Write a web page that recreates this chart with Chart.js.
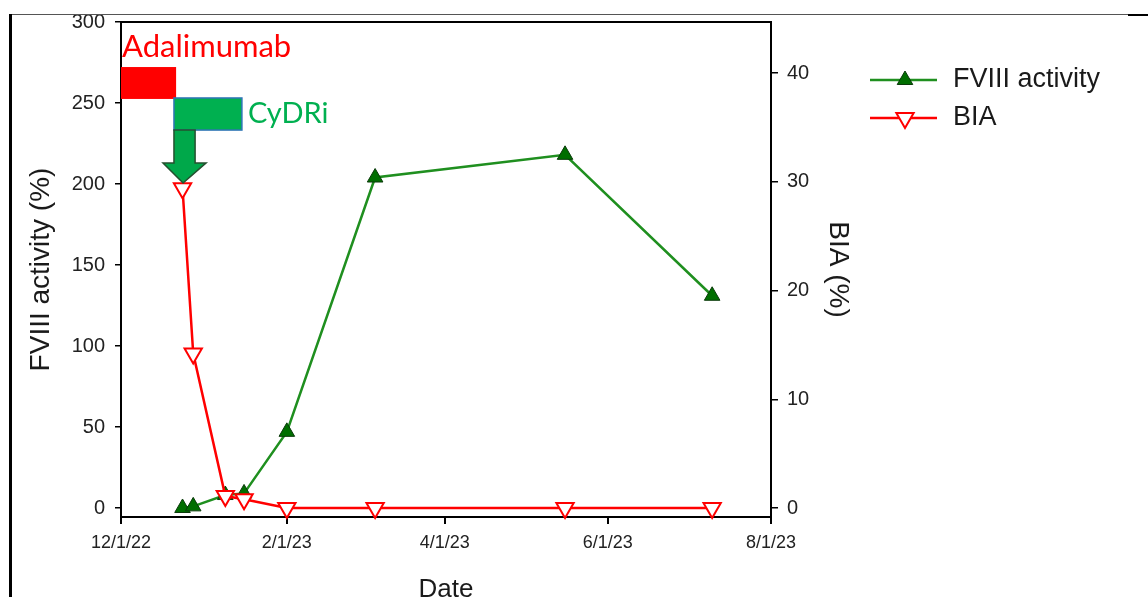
<!DOCTYPE html>
<html>
<head>
<meta charset="utf-8">
<script src="https://cdn.jsdelivr.net/npm/chart.js@4.4.0/dist/chart.umd.min.js"></script>
<style>
html, body { margin: 0; padding: 0; background: #fff; overflow: hidden; }
#wrap { position: relative; width: 1148px; height: 597px; overflow: hidden; }
#myChart { position: absolute; left: 0; top: 0; }
#frameTop { position: absolute; left: 9px; top: 14px; width: 1119px; height: 0; border-top: 1px solid #555; }
#frameCorner { position: absolute; left: 1128px; top: 14px; width: 20px; height: 2px; background: #000; }
#frameLeft { position: absolute; left: 9px; top: 14px; width: 3px; height: 600px; background: #000; }
</style>
</head>
<body>
<div id="wrap">
  <canvas id="myChart" width="1148" height="615"></canvas>
  <div id="frameTop"></div>
  <div id="frameCorner"></div>
  <div id="frameLeft"></div>
</div>
<script>
// x axis is days since 12/1/22
const tickDays = [0, 62, 121, 182, 243]
const tickLabels = ['12/1/22', '2/1/23', '4/1/23', '6/1/23', '8/1/23']

const sampleDays = [23, 27, 39, 46, 62, 95, 166, 221]
const fviiiActivity = [0, 1, 8, 9, 47, 204, 218, 131]
const biaValues = [29.4, 14.2, 1.1, 0.8, 0, 0, 0, 0]

const leftTicks = [0, 50, 100, 150, 200, 250, 300]
const rightTicks = [0, 10, 20, 30, 40]

// treatment periods (days)
const treatments = ['Adalimumab', 'CyDRi']
const treatStart = [0, 19.8]
const treatEnd = [20.6, 45.2]

const fontMain = '"Liberation Sans", Arial, sans-serif'
const fontNote = 'Lato, "Open Sans", sans-serif'

function triangle(ctx, cx, cy, r, down) {
  const s = down ? -1 : 1
  ctx.beginPath()
  ctx.moveTo(cx, cy - s * r)
  ctx.lineTo(cx + r * Math.sqrt(3) / 2, cy + s * r / 2)
  ctx.lineTo(cx - r * Math.sqrt(3) / 2, cy + s * r / 2)
  ctx.closePath()
}

const extrasPlugin = {
  id: 'extras',
  afterDraw(chart) {
    const { ctx, chartArea } = chart
    const x = chart.scales.x
    const y = chart.scales.y
    ctx.save()

    // top edge of the plot box
    ctx.strokeStyle = '#000'
    ctx.lineWidth = 2
    ctx.beginPath()
    ctx.moveTo(chartArea.left - 1, chartArea.top)
    ctx.lineTo(chartArea.right + 1, chartArea.top)
    ctx.stroke()

    // Adalimumab block
    const ax0 = x.getPixelForValue(treatStart[0])
    const ax1 = x.getPixelForValue(treatEnd[0])
    const ay0 = y.getPixelForValue(272.2)
    const ay1 = y.getPixelForValue(252.5)
    ctx.fillStyle = '#ff0000'
    ctx.fillRect(ax0, ay0, ax1 - ax0, ay1 - ay0)
    ctx.font = '31px ' + fontNote
    ctx.textBaseline = 'middle'
    ctx.textAlign = 'left'
    ctx.fillText(treatments[0], ax0 + 1, y.getPixelForValue(284.5))

    // CyDRi block
    const cx0 = x.getPixelForValue(treatStart[1])
    const cx1 = x.getPixelForValue(treatEnd[1])
    const cy0 = y.getPixelForValue(253.1)
    const cy1 = y.getPixelForValue(233.3)
    ctx.fillStyle = '#00b050'
    ctx.fillRect(cx0, cy0, cx1 - cx0, cy1 - cy0)
    ctx.strokeStyle = '#2e75b6'
    ctx.lineWidth = 1.5
    ctx.strokeRect(cx0, cy0, cx1 - cx0, cy1 - cy0)
    ctx.font = '29px ' + fontNote
    ctx.fillText(treatments[1], cx1 + 6, y.getPixelForValue(243.5))

    // arrow down from CyDRi
    const sx0 = cx0
    const sx1 = x.getPixelForValue(27.7)
    const hx0 = x.getPixelForValue(15.7)
    const hx1 = x.getPixelForValue(31.8)
    const tipX = x.getPixelForValue(23.2)
    const hy = y.getPixelForValue(213)
    const tipY = y.getPixelForValue(200.6)
    ctx.beginPath()
    ctx.moveTo(sx0, cy1)
    ctx.lineTo(sx1, cy1)
    ctx.lineTo(sx1, hy)
    ctx.lineTo(hx1, hy)
    ctx.lineTo(tipX, tipY)
    ctx.lineTo(hx0, hy)
    ctx.lineTo(sx0, hy)
    ctx.closePath()
    ctx.fillStyle = '#00a84a'
    ctx.fill()
    ctx.strokeStyle = '#24502f'
    ctx.lineWidth = 1.5
    ctx.stroke()

    // legend
    const lx0 = 870, lx1 = 937, mx = 905, tx = 953
    const rows = [
      { label: 'FVIII activity', y: 80, color: '#1f8f1f', down: false },
      { label: 'BIA', y: 118, color: '#ff0000', down: true }
    ]
    ctx.font = '27px ' + fontMain
    rows.forEach(r => {
      ctx.strokeStyle = r.color
      ctx.lineWidth = 2.5
      ctx.beginPath()
      ctx.moveTo(lx0, r.y)
      ctx.lineTo(lx1, r.y)
      ctx.stroke()
      if (r.down) {
        triangle(ctx, mx, r.y, 10, true)
        ctx.fillStyle = '#fff'
        ctx.fill()
        ctx.strokeStyle = '#ff0000'
        ctx.lineWidth = 2
        ctx.stroke()
      } else {
        triangle(ctx, mx, r.y, 9, false)
        ctx.fillStyle = '#006e00'
        ctx.fill()
        ctx.strokeStyle = '#0a3a0a'
        ctx.lineWidth = 1
        ctx.stroke()
      }
      ctx.fillStyle = '#1a1a1a'
      ctx.textAlign = 'left'
      ctx.textBaseline = 'middle'
      ctx.fillText(r.label, tx, r.y)
    })
    ctx.restore()
  }
}

const ctx = document.getElementById('myChart')
new Chart(ctx, {
  type: 'line',
  data: {
    datasets: [{
      label: 'FVIII activity',
      data: sampleDays.map((d, i) => ({ x: d, y: fviiiActivity[i] })),
      yAxisID: 'y',
      borderColor: '#1f8f1f',
      borderWidth: 2.5,
      pointStyle: 'triangle',
      pointRadius: 9,
      pointBackgroundColor: '#006e00',
      pointBorderColor: '#0a3a0a',
      pointBorderWidth: 1,
      tension: 0,
      clip: false,
      order: 1
    }, {
      label: 'BIA',
      data: sampleDays.map((d, i) => ({ x: d, y: biaValues[i] })),
      yAxisID: 'y1',
      borderColor: '#ff0000',
      borderWidth: 2.5,
      pointStyle: 'triangle',
      pointRotation: 180,
      pointRadius: 10,
      pointBackgroundColor: '#ffffff',
      pointBorderColor: '#ff0000',
      pointBorderWidth: 2,
      tension: 0,
      clip: false,
      order: 0
    }]
  },
  options: {
    responsive: false,
    animation: false,
    layout: { padding: { top: 22, right: 277, left: 0, bottom: 0 } },
    plugins: { legend: { display: false }, tooltip: { enabled: false } },
    scales: {
      x: {
        type: 'linear',
        min: 0,
        max: 243,
        afterBuildTicks: s => { s.ticks = tickDays.map(v => ({ value: v })) },
        afterFit: s => { s.height = 98 },
        ticks: {
          callback: v => tickLabels[tickDays.indexOf(v)],
          font: { family: fontMain, size: 18 },
          color: '#222',
          padding: 8,
          maxRotation: 0,
          autoSkip: false
        },
        grid: { drawOnChartArea: false, drawTicks: true, tickLength: 7, color: '#000', lineWidth: 2 },
        border: { color: '#000', width: 2 },
        title: { display: true, text: 'Date', font: { family: fontMain, size: 26 }, color: '#1a1a1a', padding: { top: 0, bottom: 10 } }
      },
      y: {
        position: 'left',
        min: -5.56,
        max: 300,
        afterBuildTicks: s => { s.ticks = leftTicks.map(v => ({ value: v })) },
        afterFit: s => { s.width = 121 },
        ticks: { font: { family: fontMain, size: 20 }, color: '#222', padding: 10 },
        grid: { drawOnChartArea: false, drawTicks: true, tickLength: 6, color: '#000', lineWidth: 1.5 },
        border: { color: '#000', width: 2 },
        title: { display: true, text: 'FVIII activity (%)', font: { family: fontMain, size: 28 }, color: '#1a1a1a', padding: { top: 24, bottom: 0 } }
      },
      y1: {
        position: 'right',
        min: -0.828,
        max: 44.7,
        afterBuildTicks: s => { s.ticks = rightTicks.map(v => ({ value: v })) },
        afterFit: s => { s.width = 100 },
        ticks: { font: { family: fontMain, size: 20 }, color: '#222', padding: 9 },
        grid: { drawOnChartArea: false, drawTicks: true, tickLength: 7, color: '#000', lineWidth: 1.5 },
        border: { color: '#000', width: 2 },
        title: { display: true, text: 'BIA (%)', font: { family: fontMain, size: 28 }, color: '#1a1a1a', padding: { top: 16, bottom: 0 } }
      }
    }
  },
  plugins: [extrasPlugin]
})
</script>
</body>
</html>
